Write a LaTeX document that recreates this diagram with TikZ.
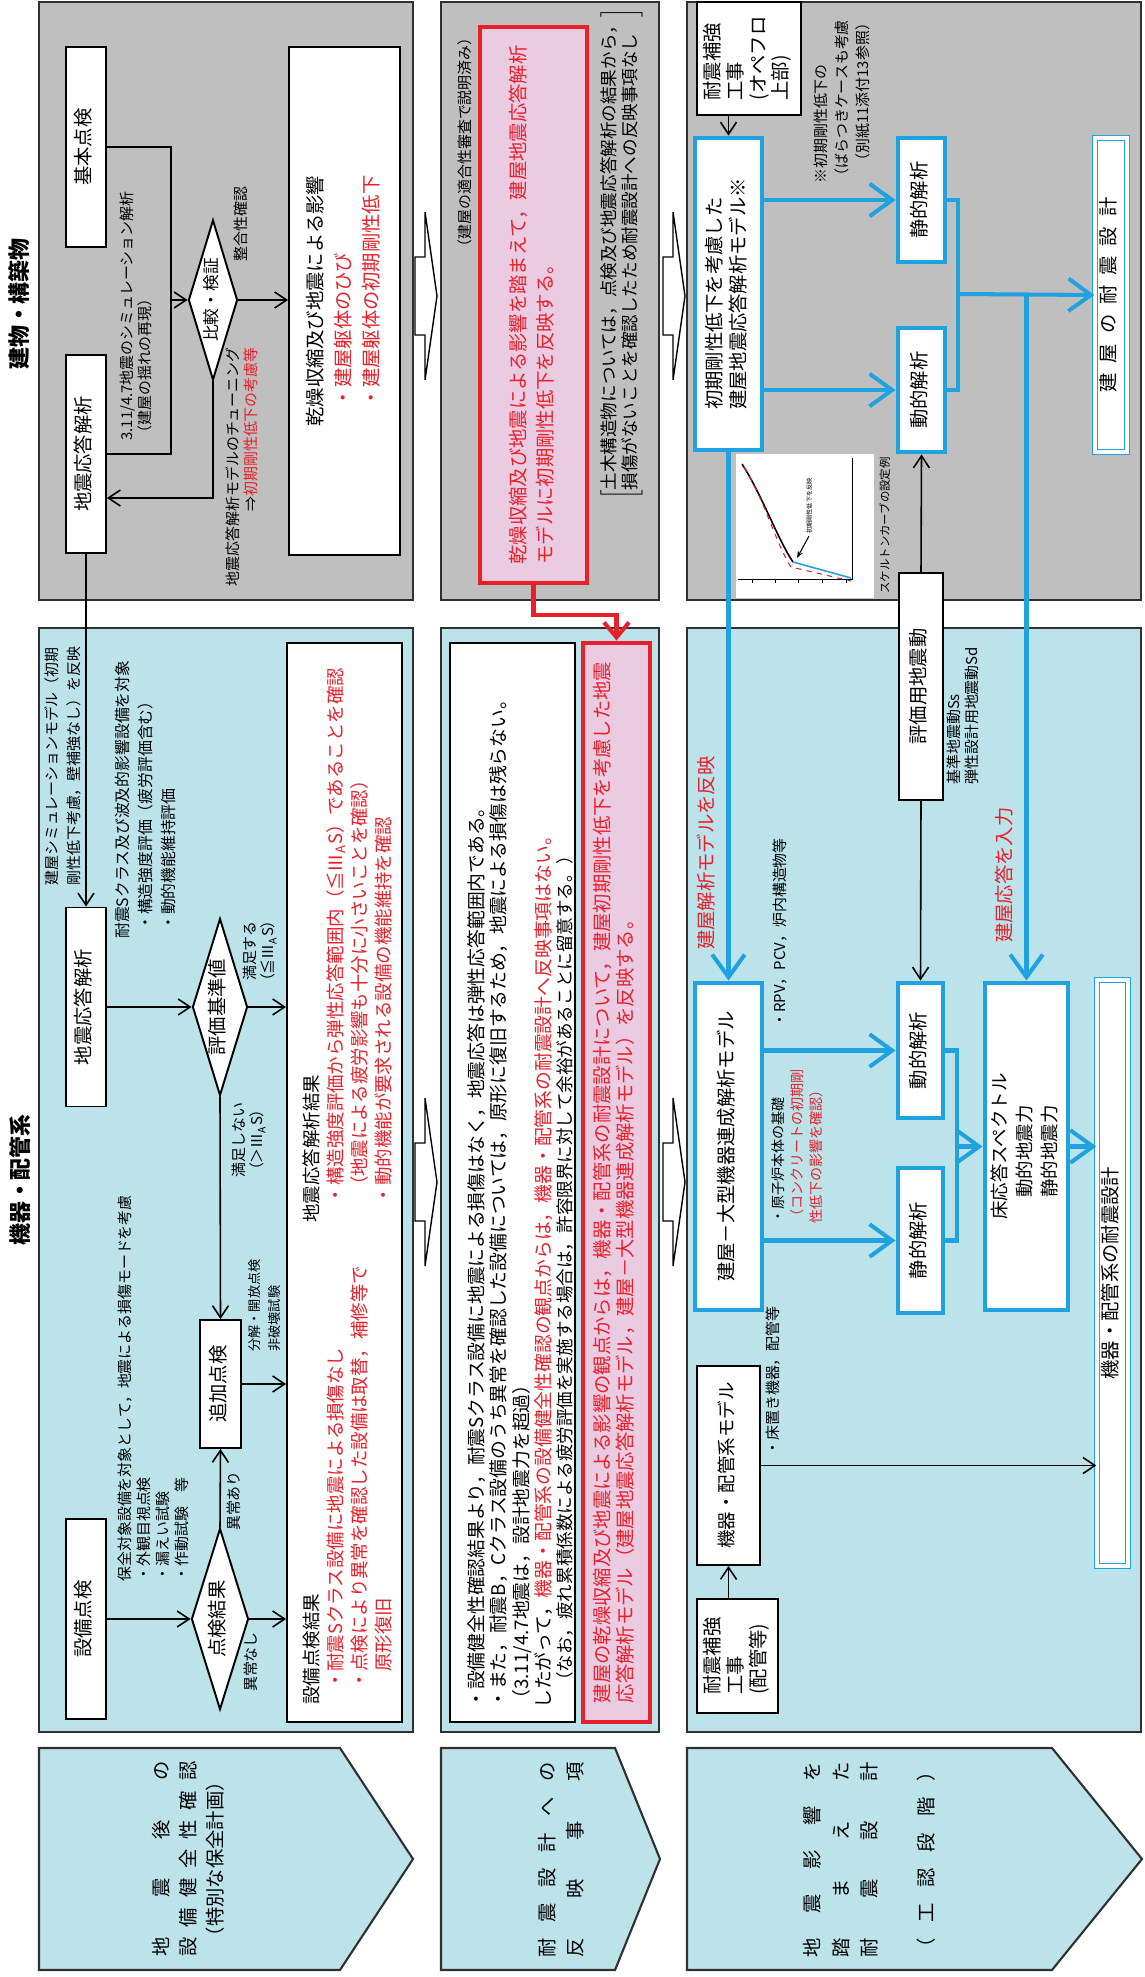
\documentclass[tikz,border=0pt]{standalone}
\usepackage{fontspec}
\setmainfont{Noto Sans CJK JP}
\usepackage{xcolor}
\usetikzlibrary{shapes.geometric, arrows.meta}
\definecolor{panelgray}{HTML}{BFBFBF}
\definecolor{panelblue}{HTML}{BCE2EA}
\definecolor{notepink}{HTML}{EACBE2}
\definecolor{alertred}{HTML}{E8202A}
\definecolor{flowblue}{HTML}{1FA2DD}
\definecolor{edgegray}{HTML}{303030}

% vertical (rotated) text block, one column
\newcommand{\vt}[2][l]{\rotatebox{90}{\begin{tabular}{@{}#1@{}}#2\end{tabular}}}
\newcommand{\rd}[1]{\textcolor{alertred}{#1}}
\newcommand{\spread}[1]{\makebox[39mm][s]{#1}}

\tikzset{
  % panels and step arrows
  gpanel/.style={draw=edgegray, fill=panelgray, line width=1.2pt},
  bpanel/.style={draw=edgegray, fill=panelblue, line width=1.2pt},
  chev/.style={draw=edgegray, fill=panelblue, line width=1.2pt},
  hollow/.style={draw=black, fill=white, line width=0.8pt},
  % boxes
  box/.style={rectangle, draw=black, fill=white, line width=1.1pt, inner sep=0pt,
              font=\fontsize{11}{13}\selectfont},
  mbox/.style={box, draw=flowblue, line width=2.8pt},
  dbox/.style={box, draw=flowblue, line width=0.7pt, double=white, double distance=2pt},
  note/.style={box, draw=alertred, fill=notepink, line width=2.8pt, text=alertred},
  dec/.style={diamond, aspect=0.32, draw=black, fill=white, line width=1.1pt,
              inner sep=0pt, font=\fontsize{11}{13}\selectfont},
  % texts
  hdr/.style={inner sep=0pt, font=\fontsize{12.5}{15}\selectfont\bfseries},
  steptext/.style={inner sep=0pt, font=\fontsize{11}{15.6}\selectfont},
  lbl/.style={inner sep=0pt, font=\fontsize{8.5}{10.5}\selectfont},
  txt/.style={inner sep=0pt, font=\fontsize{10.5}{13.5}\selectfont},
  redlbl/.style={inner sep=0pt, text=alertred, font=\fontsize{11}{13}\selectfont},
  % connectors
  flow/.style={draw=black, line width=0.9pt},
  barrow/.style={flow, -{Straight Barb[length=2.4mm, width=3.2mm]}},
  blline/.style={draw=flowblue, line width=2.3pt},
  blarrow/.style={blline, -{Straight Barb[length=4.5mm, width=6.5mm]}},
  redarrow/.style={draw=alertred, line width=2.3pt, -{Straight Barb[length=3mm, width=5mm]}},
}

\begin{document}
\begin{tikzpicture}[x=0.2mm, y=-0.2mm]
\useasboundingbox (0,0) rectangle (1144,1977);

% ── Panels (grey: buildings, blue: equipment) ────────────────────────────────
\foreach \l/\r in {39/413, 441/659, 687/1141}{
  \draw[gpanel] (\l,2) rectangle (\r,600);
  \draw[bpanel] (\l,628) rectangle (\r,1732);
}

% ── Step arrows ───────────────────────────────────────────────────────────────
\foreach \l/\c/\p in {39/340/413, 441/615/660, 687/1052/1142}
  \draw[chev] (\l,1748) -- (\c,1748) -- (\p,1859) -- (\c,1970) -- (\l,1970) -- cycle;

% ── Hollow arrows between the rows ───────────────────────────────────────────
\foreach \x in {415,663}
  \foreach \y in {296,1182}
    \draw[hollow] (\x,\y-39) -- (\x+10,\y-39) -- (\x+10,\y-84) -- (\x+22,\y)
      -- (\x+10,\y+84) -- (\x+10,\y+39) -- (\x,\y+39) -- cycle;

% ── Headers ───────────────────────────────────────────────────────────────────
\node[hdr] (hdrbld) at (22,304)  {\vt{建物・構築物}};
\node[hdr] (hdreqp) at (23,1180) {\vt{機器・配管系}};

% ── Step labels ───────────────────────────────────────────────────────────────
\node[steptext] (stepA) at (190,1859) {\vt[c]{\spread{地\hfill 震\hfill 後\hfill の}\\
  \spread{設\hfill 備\hfill 健\hfill 全\hfill 性\hfill 確\hfill 認}\\（特別な保全計画）}};
\node[steptext] (stepB) at (563,1860) {\vt[c]{\spread{耐\hfill 震\hfill 設\hfill 計\hfill へ\hfill の}\\
  \spread{反\hfill 映\hfill 事\hfill 項}}};
\node[steptext, font=\fontsize{11}{16.2}\selectfont] (stepC) at (871,1860) {\vt[c]{%
  \spread{地\hfill 震\hfill 影\hfill 響\hfill を}\\\spread{踏\hfill ま\hfill え\hfill た}\\
  \spread{耐\hfill 震\hfill 設\hfill 計}\\[16pt]\spread{（\hfill 工\hfill 認\hfill 段\hfill 階\hfill ）}}};

% ── Row 1, buildings ─────────────────────────────────────────────────────────
\node[box, minimum width=8mm, minimum height=40mm]   (kihon) at (86,147) {\vt{基本点検}};
\node[box, minimum width=8mm, minimum height=39.6mm] (eqG)   at (86,454) {\vt{地震応答解析}};
\node[dec, minimum width=9.8mm, minimum height=32mm, font=\fontsize{9.5}{11}\selectfont]
  (cmp) at (213,300) {\vt{比較・検証}};
\node[box, minimum width=22.2mm, minimum height=101.6mm, font=\fontsize{11}{16}\selectfont]
  (rbox1) at (344.5,301) {\vt{乾燥収縮及び地震による影響\\
  \hspace{1em}\rd{・建屋躯体のひび}\\\hspace{1em}\rd{・建屋躯体の初期剛性低下}}};
\coordinate (brk) at (171,300);
\coordinate (tuneturn) at (213,498);
\draw[flow] (kihon.east) -| (brk) |- (eqG.east);
\draw[barrow] (brk) -- (cmp.west);
\draw[barrow] (cmp.south) -- (tuneturn) -- (tuneturn -| eqG.east);
\draw[barrow] (cmp.east) -- (cmp.east -| rbox1.west);
\node[lbl, anchor=south west] (simlbl) at (119,441)
  {\vt{3.11/4.7地震のシミュレーション解析\\（建屋の揺れの再現）}};
\node[lbl] (fitlbl) at (243,224) {\vt{整合性確認}};
\node[lbl, anchor=north west] (tunelbl) at (225,347)
  {\vt[r]{地震応答解析モデルのチューニング\\⇒\rd{初期剛性低下の考慮等}}};

% ── Row 1, equipment ─────────────────────────────────────────────────────────
\node[box, minimum width=8mm, minimum height=39.8mm]   (eqE)   at (86,1007)  {\vt{地震応答解析}};
\node[dec, minimum width=11mm, minimum height=35.4mm]  (evalD) at (220,1007) {\vt{評価基準値}};
\node[box, minimum width=8.2mm, minimum height=25.6mm] (addI)  at (220.5,1384) {\vt{追加点検}};
\node[box, minimum width=8mm, minimum height=40mm]     (setsu) at (86,1619)  {\vt{設備点検}};
\node[dec, minimum width=11.4mm, minimum height=36.2mm] (chkD) at (220,1619) {\vt{点検結果}};
\node[box, minimum width=23mm, minimum height=215.8mm] (rbox2) at (344.5,1182.5) {};

\draw[barrow] (eqG.south) -- (eqE.north);
\draw[barrow] (eqE.east) -- (evalD.west);
\draw[barrow] (evalD.east) -- (evalD.east -| rbox2.west);
\draw[barrow] (evalD.south) -- (addI.north);
\draw[barrow] (addI.east) -- (addI.east -| rbox2.west);
\draw[barrow] (setsu.east) -- (chkD.west);
\draw[barrow] (chkD.north) -- (addI.south);
\draw[barrow] (chkD.east) -- (chkD.east -| rbox2.west);

\node[lbl, font=\fontsize{8.5}{12.5}\selectfont, anchor=south west] (simref) at (42,886)
  {\vt{建屋シミュレーションモデル（初期\\剛性低下考慮，壁補強なし）を反映}};
\node[lbl, font=\fontsize{9}{13}\selectfont, anchor=south west] (scope) at (112,939)
  {\vt{耐震Sクラス及び波及的影響設備を対象\\\hspace{.5em}・構造強度評価（疲労評価含む）\\
  \hspace{.5em}・動的機能維持評価}};
\node[lbl] (oklbl) at (261,951)  {\vt[c]{満足する\\（≦Ⅲ\textsubscript{A}S）}};
\node[lbl] (nglbl) at (250,1140) {\vt[c]{満足しない\\（＞Ⅲ\textsubscript{A}S）}};
\node[lbl, font=\fontsize{7.5}{11}\selectfont, anchor=south west] (addlbl) at (246,1352)
  {\vt{分解・開放点検\\非破壊試験}};
\node[lbl, font=\fontsize{8.5}{10.8}\selectfont, anchor=south west] (chklbl) at (117,1582)
  {\vt{保全対象設備を対象として，地震による損傷モードを考慮\\・外観目視点検\\・漏えい試験\\・作動試験　等}};
\node[lbl] (yeslbl) at (236,1501) {\vt{異常あり}};
\node[lbl] (nolbl)  at (253,1662) {\vt{異常なし}};

\node[txt, anchor=south west] (eqres) at (302,1223) {\vt{地震応答解析結果\\
  \hspace{1em}\rd{・構造強度評価から弾性応答範囲内（≦Ⅲ\textsubscript{A}S）であることを確認}\\
  \hspace{1.5em}\rd{（地震による疲労影響も十分に小さいことを確認）}\\
  \hspace{1em}\rd{・動的機能が要求される設備の機能維持を確認}}};
\node[txt, anchor=south west] (insres) at (302,1705) {\vt{設備点検結果\\
  \hspace{.8em}\rd{・耐震Sクラス設備に地震による損傷なし}\\
  \hspace{.8em}\rd{・点検により異常を確認した設備は取替，補修等で}\\
  \hspace{1.8em}\rd{原形復旧}}};

% ── Row 2 ─────────────────────────────────────────────────────────────────────
\node[lbl, anchor=north] (donelbl) at (467,30) {\vt{（建屋の適合性審査で説明済み）}};
\node[note, minimum width=21.4mm, minimum height=111.2mm, font=\fontsize{11}{15.4}\selectfont]
  (pink1) at (533.5,305) {\vt{乾燥収縮及び地震による影響を踏まえて，建屋地震応答解析\\
  モデルに初期剛性低下を反映する。}};
\node[txt, font=\fontsize{10}{11.4}\selectfont, anchor=south west] (civil) at (600,500)
  {\rotatebox{90}{$\left[\mbox{\begin{tabular}{@{}l@{}}土木構造物については，点検及び地震応答解析の結果から，\\
  損傷がないことを確認したため耐震設計への反映事項なし\end{tabular}}\right]$}};

\node[box, minimum width=25mm, minimum height=215.8mm] (wbox) at (512.5,1182.5) {};
\node[note, minimum width=13.4mm, minimum height=215.8mm, font=\fontsize{11}{13}\selectfont]
  (pink2) at (616.5,1182.5) {\vt{建屋の乾燥収縮及び地震による影響の観点からは，機器・配管系の耐震設計について，建屋初期剛性低下を考慮した地震\\
  応答解析モデル（建屋地震応答解析モデル，建屋－大型機器連成解析モデル）を反映する。}};
\draw[redarrow] (pink1.south) -- ++(0,30) -| (pink2.north);

\node[txt, font=\fontsize{10.7}{12.1}\selectfont, anchor=south west] (reflect) at (467,1709) {\vt{%
  ・設備健全性確認結果より，耐震Sクラス設備に地震による損傷はなく，地震応答は弾性応答範囲内である。\\
  ・また，耐震B，Cクラス設備のうち異常を確認した設備については，原形に復旧するため，地震による損傷は残らない。\\
  （3.11/4.7地震は，設計地震力を超過）\\
  したがって，\rd{機器・配管系の設備健全性確認の観点からは，機器・配管系の耐震設計へ反映事項はない。}\\
  \hspace{1em}{\fontsize{10}{12}\selectfont （なお，疲れ累積係数による疲労評価を実施する場合は，許容限界に対して余裕があることに留意する。）}}};

% ── Row 3, buildings ─────────────────────────────────────────────────────────
\node[box, minimum width=20.8mm, minimum height=22.6mm, font=\fontsize{11}{12.7}\selectfont]
  (hosei1) at (749,58.5) {\vt{耐震補強\\工事\\(オペフロ\\上部)}};
\node[mbox, minimum width=13.4mm, minimum height=62.4mm, font=\fontsize{11}{14.2}\selectfont]
  (model) at (728.5,294) {\vt{初期剛性低下を考慮した\\建屋地震応答解析モデル※}};
\node[mbox, minimum width=9.4mm, minimum height=24.8mm] (seiG) at (921.5,200) {\vt{静的解析}};
\node[mbox, minimum width=9.4mm, minimum height=24.8mm] (douG) at (921.5,390) {\vt{動的解析}};
\node[dbox, minimum width=6.4mm, minimum height=62.8mm] (kenD) at (1111,295)
  {\vt{\spread{建\hfill 屋\hfill の\hfill 耐\hfill 震\hfill 設\hfill 計}\hspace{13mm}}};
\node[box, minimum width=8.8mm, minimum height=45.4mm] (eval) at (921,686.5) {\vt{評価用地震動}};
\coordinate (bjoin) at (958,294);
\draw[barrow] (hosei1.south -| model.north) -- (model.north);
\draw[blarrow] (model.east |- seiG.west) -- (seiG.west);
\draw[blarrow] (model.east |- douG.west) -- (douG.west);
\draw[blline] (seiG.east) -| (bjoin) |- (douG.east);
\draw[blarrow] (bjoin) -- (kenD.west);
\draw[barrow] (eval.north) -- (douG.south);

\node[lbl, font=\fontsize{8.5}{12}\selectfont, anchor=south west] (varlbl) at (811,184)
  {\vt{※初期剛性低下の\\（ばらつきケースも考慮\\\hspace{1em}（別紙11添付13参照）}};

% skeleton curve example
\fill[white] (736,454) rectangle (874,598);
\draw[line width=0.5pt] (738,579) -- (852,579) -- (852,458);
\foreach \t in {752,775,798,822,846}
  \draw[line width=0.4pt] (\t,579) -- (\t,583);
\draw[line width=0.9pt] (742,464) .. controls (762,495) and (778,540) .. (793,562);
\draw[alertred, dashed, line width=0.6pt] (744,467) .. controls (764,499) and (777,546) .. (791,567) -- (851,581);
\draw[flowblue, line width=0.9pt] (793,562) -- (851,578);
\draw[-{Stealth[length=1.4mm]}, line width=0.6pt] (809,536) -- (797,558);
\node[inner sep=0pt, font=\fontsize{3.5}{4}\selectfont, anchor=south west] (skelnote) at (806,534)
  {\vt{初期剛性低下を反映}};
\node[lbl, font=\fontsize{6.5}{8}\selectfont, anchor=south west] (skellbl) at (879,594)
  {\vt{スケルトンカーブの設定例}};

% ── Row 3, equipment ─────────────────────────────────────────────────────────
\node[mbox, minimum width=13.4mm, minimum height=65.4mm] (daikei) at (728.5,1146.5)
  {\vt{建屋－大型機器連成解析モデル}};
\node[mbox, minimum width=9mm, minimum height=27mm] (douE) at (920.5,1050.5) {\vt{動的解析}};
\node[mbox, minimum width=9mm, minimum height=29mm] (seiE) at (920.5,1240.5) {\vt{静的解析}};
\node[mbox, minimum width=16.6mm, minimum height=65.4mm, font=\fontsize{10.5}{14}\selectfont]
  (flr) at (1026.5,1146.5) {\vt{床応答スペクトル\\\hspace{1.2em}動的地震力\\\hspace{1.2em}静的地震力}};
\node[dbox, minimum width=6.2mm, minimum height=117.2mm] (kiD) at (1112.5,1273)
  {\vt{機器・配管系の耐震設計}};
\node[box, minimum width=12.6mm, minimum height=39.8mm, font=\fontsize{10.5}{13}\selectfont]
  (kiM) at (728.5,1465.5) {\vt{機器・配管系モデル}};
\node[box, minimum width=16.2mm, minimum height=22.8mm, font=\fontsize{11}{13}\selectfont]
  (hosei2) at (737.5,1656) {\vt{耐震補強\\工事\\(配管等)}};
\coordinate (bjoin2) at (957,1146.5);

\draw[blarrow] (model.south) -- (daikei.north);
\draw[blarrow] (bjoin -| flr.north) -- (flr.north);
\draw[barrow] (eval.south) -- (douE.north);
\draw[blarrow] (daikei.east |- douE.west) -- (douE.west);
\draw[blarrow] (daikei.east |- seiE.west) -- (seiE.west);
\draw[blline] (douE.east) -| (bjoin2) |- (seiE.east);
\draw[blarrow] (bjoin2) -- (flr.west);
\draw[blarrow] (flr.east) -- (flr.east -| kiD.west);
\draw[barrow] (kiM.east) -- (kiM.east -| kiD.west);
\draw[barrow] (hosei2.north -| kiM.south) -- (kiM.south);

\node[redlbl] (mdlref) at (709,853) {\vt{建屋解析モデルを反映}};
\node[redlbl] (rspin)  at (1007,875) {\vt{建屋応答を入力}};
\node[lbl, font=\fontsize{8.5}{10.5}\selectfont, anchor=south west] (ssd) at (946,785)
  {\vt{基準地震動Ss\\弾性設計用地震動Sd}};
\node[lbl, anchor=south west] (rpv) at (772,1028) {\vt{・RPV，PCV，炉内構造物等}};
\node[lbl, font=\fontsize{8}{10.8}\selectfont, anchor=south west] (rpvbase) at (770,1224)
  {\vt{・原子炉本体の基礎\\\rd{（コンクリートの初期剛}\\\rd{性低下の影響を確認）}}};
\node[lbl, anchor=south west] (floorlbl) at (765,1456) {\vt{・床置き機器，配管等}};

\end{tikzpicture}
\end{document}
